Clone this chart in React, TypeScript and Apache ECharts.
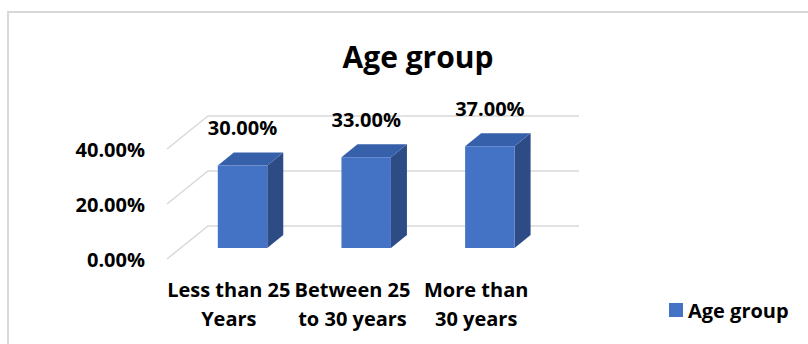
import React, { useEffect, useRef } from "react";
import * as echarts from "echarts";

// Age-group distribution, drawn as Excel-style 3D columns
const categories = ["Less than 25\nYears", "Between 25\nto 30 years", "More than\n30 years"];
const shares = [30, 33, 37];
const tickValues = [0, 20, 40];
const seriesName = "Age group";

const FONT = "'Open Sans', 'Noto Sans', sans-serif";
const WALL_DX = 41; // front plane -> back wall, horizontal shift
const WALL_DY = -33; // front plane -> back wall, vertical shift
const BAR_DX = 13.7; // front plane -> front face of the columns
const BAR_DY = -11;
const DEPTH_DX = 16; // column depth
const DEPTH_DY = -13;

export default function App() {
  const ref = useRef<HTMLDivElement>(null);

  useEffect(() => {
    if (!ref.current) return;
    const chart = echarts.init(ref.current, undefined, { renderer: "svg" });

    const gridLines = tickValues.map((v) => [0, v]);
    const bars = shares.map((v, i) => [i, v]);

    chart.setOption({
      animation: false,
      backgroundColor: "#ffffff",
      title: {
        text: "Age group",
        left: 413,
        top: 36,
        textAlign: "center",
        textStyle: { fontFamily: FONT, fontWeight: "bold", fontSize: 30, color: "#000" },
      },
      legend: {
        data: [seriesName],
        left: 664,
        top: 295,
        icon: "rect",
        itemWidth: 14,
        itemHeight: 14,
        textStyle: { fontFamily: FONT, fontWeight: "bold", fontSize: 20, color: "#000" },
      },
      grid: { left: 167, right: 270, top: 149, bottom: 85 },
      xAxis: {
        type: "category",
        data: categories,
        axisLine: { show: false },
        axisTick: { show: false },
        axisLabel: {
          interval: 0,
          margin: 16,
          fontFamily: FONT,
          fontWeight: "bold",
          fontSize: 20,
          lineHeight: 29,
          color: "#000",
        },
      },
      yAxis: {
        type: "value",
        min: 0,
        max: 40,
        interval: 20,
        axisLine: { show: false },
        axisTick: { show: false },
        splitLine: { show: false },
        axisLabel: {
          margin: 22,
          fontFamily: FONT,
          fontWeight: "bold",
          fontSize: 20,
          color: "#000",
          formatter: (v: number) => `${v.toFixed(2)}%`,
        },
      },
      graphic: [
        {
          type: "rect",
          shape: { x: 8, y: 12, width: 900, height: 400 },
          style: { fill: "none", stroke: "#d9d9d9", lineWidth: 2 },
          silent: true,
        },
      ],
      series: [
        {
          name: "walls",
          type: "custom",
          data: gridLines,
          z: 1,
          silent: true,
          renderItem: (params: any, api: any) => {
            const cs = params.coordSys;
            const y = api.coord([0, api.value(1)])[1];
            return {
              type: "polyline",
              shape: {
                points: [
                  [cs.x, y],
                  [cs.x + WALL_DX, y + WALL_DY],
                  [cs.x + cs.width + WALL_DX, y + WALL_DY],
                ],
              },
              style: { stroke: "#d9d9d9", lineWidth: 1.5, fill: "none" },
            };
          },
        },
        {
          name: seriesName,
          type: "custom",
          data: bars,
          z: 2,
          itemStyle: { color: "#4472c4" },
          renderItem: (params: any, api: any) => {
            const idx = api.value(0);
            const val = api.value(1);
            const base = api.coord([idx, 0]);
            const top = api.coord([idx, val]);
            const band = api.size([1, 0])[0];
            const w = band * 0.4;
            const xl = base[0] - w / 2 + BAR_DX;
            const xr = xl + w;
            const yb = base[1] + BAR_DY;
            const yt = top[1] + BAR_DY;
            return {
              type: "group",
              children: [
                {
                  type: "polygon",
                  shape: {
                    points: [
                      [xr, yb],
                      [xr + DEPTH_DX, yb + DEPTH_DY],
                      [xr + DEPTH_DX, yt + DEPTH_DY],
                      [xr, yt],
                    ],
                  },
                  style: { fill: "#2d4c85" },
                },
                {
                  type: "polygon",
                  shape: {
                    points: [
                      [xl, yt],
                      [xl + DEPTH_DX, yt + DEPTH_DY],
                      [xr + DEPTH_DX, yt + DEPTH_DY],
                      [xr, yt],
                    ],
                  },
                  style: { fill: "#3760aa" },
                },
                {
                  type: "rect",
                  shape: { x: xl, y: yt, width: w, height: yb - yt },
                  style: { fill: "#4472c4" },
                },
                {
                  type: "text",
                  x: (xl + xr) / 2,
                  y: yt - 38,
                  style: {
                    text: `${val.toFixed(2)}%`,
                    fontFamily: FONT,
                    fontWeight: "bold",
                    fontSize: 20,
                    fill: "#000",
                    align: "center",
                    verticalAlign: "middle",
                  },
                },
              ],
            };
          },
        },
      ],
    });

    return () => chart.dispose();
  }, []);

  return (
    <div
      ref={ref}
      style={{ position: "fixed", left: 0, top: 0, width: 808, height: 344 }}
    />
  );
}
